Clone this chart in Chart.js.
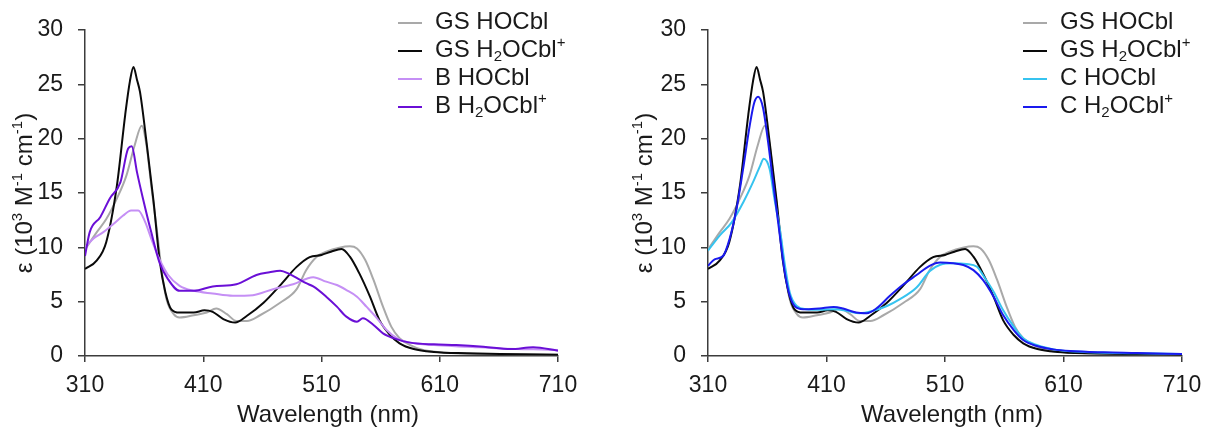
<!DOCTYPE html>
<html><head><meta charset="utf-8">
<script src="https://cdn.jsdelivr.net/npm/chart.js@4.4.1/dist/chart.umd.min.js"></script>
<style>
html,body{margin:0;padding:0;background:#fff;}
#wrap{position:relative;width:1206px;height:430px;overflow:hidden;}
canvas{position:absolute;top:0;}
#c1{left:0}
#c2{left:603px}
</style></head><body>
<div id="wrap"><canvas id="c1" width="603" height="430"></canvas><canvas id="c2" width="603" height="430"></canvas></div>
<script>
// ---- tick labels ----
const xTickValues = [310, 410, 510, 610, 710];
const yTickValues = [0, 5, 10, 15, 20, 25, 30];
const xTitle = 'Wavelength (nm)';
const yTitle = '\u03b5 (10{^3} M{^-1} cm{^-1})';

// ---- series (wavelength nm, epsilon 10^3 M^-1 cm^-1) ----
const gsHOCblNm  = [310, 320, 328, 337, 345, 352, 358, 362, 366, 371, 375, 379, 385, 390, 402, 413, 421, 430, 438, 447, 458, 475, 489, 497, 506, 514, 525, 534, 540, 547, 554, 562, 569, 576, 585, 596, 610, 633, 661, 710];
const gsHOCblEps = [9.8, 11.4, 12.6, 14.5, 16.6, 19.4, 21.2, 19.4, 15.7, 11.4, 7.7, 5.2, 3.85, 3.54, 3.75, 4.0, 4.37, 3.85, 3.23, 3.23, 3.75, 4.9, 6.15, 7.9, 9.14, 9.6, 9.97, 10.1, 9.9, 8.83, 7.0, 4.54, 2.7, 1.63, 1.01, 0.55, 0.34, 0.21, 0.18, 0.12];

const gsH2ONm  = [310, 320, 328, 337, 344, 348, 351, 354, 356.5, 362, 368, 373, 378, 383, 390, 402, 411, 418, 427, 437, 447, 461, 475, 489, 500, 510, 518, 527, 534, 542, 551, 559, 568, 576, 588, 605, 633, 661, 710];
const gsH2OEps = [8.0, 8.8, 10.5, 15.7, 22.2, 25.3, 26.6, 25.4, 24.3, 19.7, 14.2, 8.9, 5.85, 4.3, 4.0, 4.0, 4.2, 4.06, 3.4, 3.08, 3.7, 4.9, 6.5, 8.2, 9.1, 9.3, 9.6, 9.85, 9.14, 7.6, 5.46, 3.3, 1.93, 1.17, 0.64, 0.37, 0.25, 0.18, 0.12];

const bHOCblNm  = [310, 317, 325.5, 334, 342, 349, 355, 361, 366, 373, 380, 390, 402, 418, 435, 452, 469, 486, 503, 514, 523, 531, 540, 548, 557, 565, 574, 585, 605, 633, 661, 689, 710];
const bHOCblEps = [10.0, 10.8, 11.4, 12.15, 12.9, 13.4, 13.4, 12.3, 10.8, 8.9, 7.5, 6.46, 6.0, 5.75, 5.54, 5.6, 6.15, 6.6, 7.25, 6.84, 6.53, 6.07, 5.46, 4.54, 3.47, 2.39, 1.63, 1.23, 1.01, 0.86, 0.7, 0.61, 0.55];

const bH2ONm  = [310, 314, 323, 331, 340, 346.5, 349.5, 354, 359, 366, 373, 380, 390, 402, 418, 438, 455, 466, 475, 483, 492, 497, 503, 514, 523, 531, 540, 545, 554, 562, 574, 585, 605, 624, 647, 670, 689, 710];
const bH2OEps = [9.2, 11.4, 12.8, 14.5, 16.0, 19.1, 19.3, 16.9, 14.5, 11.4, 8.6, 7.1, 6.0, 6.0, 6.4, 6.6, 7.45, 7.7, 7.85, 7.54, 7.0, 6.7, 6.4, 5.46, 4.54, 3.62, 3.16, 3.47, 2.85, 2.09, 1.53, 1.23, 1.07, 1.01, 0.86, 0.64, 0.8, 0.49];

const cHOCblNm  = [310, 320, 330, 340, 348, 354, 357, 362, 366, 371, 375, 379, 385, 393, 404, 416, 427, 438, 449, 461, 472, 486, 497, 506, 517, 528, 537, 542, 551, 559, 568, 576, 587.5, 601.5, 615.6, 644, 672, 710];
const cHOCblEps = [9.7, 11.1, 12.3, 14.2, 16.0, 17.5, 18.15, 17.2, 14.5, 11.4, 8.3, 5.85, 4.6, 4.3, 4.25, 4.3, 4.15, 3.94, 4.15, 4.6, 5.23, 6.3, 7.8, 8.4, 8.53, 8.47, 8.22, 7.45, 5.92, 4.23, 2.7, 1.63, 1.01, 0.61, 0.43, 0.31, 0.25, 0.18];

const cH2ONm  = [310, 315.6, 322.7, 328.3, 334, 339.6, 345.2, 349, 352.3, 356.5, 360.7, 364.9, 370.6, 374.8, 379, 384.6, 393, 404, 416, 424, 435, 444, 452, 463.5, 475, 486, 497, 506, 517, 525.5, 534, 542, 551, 559, 568, 576, 587.5, 601.5, 615.6, 644, 672, 710];
const cH2OEps = [8.3, 8.9, 9.2, 10.8, 13.5, 17.2, 21.2, 23.3, 23.85, 22.8, 19.7, 16.0, 11.1, 7.7, 5.54, 4.46, 4.3, 4.37, 4.52, 4.37, 4.0, 3.94, 4.37, 5.54, 6.6, 7.45, 8.3, 8.6, 8.53, 8.37, 7.9, 7.0, 5.46, 3.77, 2.39, 1.47, 0.92, 0.61, 0.46, 0.34, 0.28, 0.18];

// ---- labels & colours ----
const leftLabels  = ['GS HOCbl', 'GS H{_2}OCbl{^+}', 'B HOCbl', 'B H{_2}OCbl{^+}'];
const rightLabels = ['GS HOCbl', 'GS H{_2}OCbl{^+}', 'C HOCbl', 'C H{_2}OCbl{^+}'];
const colGS1 = '#a9a9a9', colGS2 = '#0a0a0a', colB1 = '#c58ff5', colB2 = '#6a0fd6', colC1 = '#36c3ef', colC2 = '#1a1aee';

const FONT = '"Liberation Sans", Arial, sans-serif';
const FS = 23, TFS = 24, SFS = 15;
const TXT = '#1a1a1a', AX = '#3c3c3c';

function parseRich(s) {
  const segs = []; const re = /\{([_^])([^}]*)\}/g; let last = 0, m;
  while ((m = re.exec(s))) {
    if (m.index > last) segs.push({t: s.slice(last, m.index), k: 0});
    segs.push({t: m[2], k: m[1] === '_' ? 1 : -1});
    last = re.lastIndex;
  }
  if (last < s.length) segs.push({t: s.slice(last), k: 0});
  return segs;
}
function plain(s) { return s.replace(/\{[_^]([^}]*)\}/g, '$1'); }
function drawRich(ctx, s, x, y, align) {
  const segs = parseRich(s);
  let w = 0;
  segs.forEach(g => { ctx.font = (g.k ? SFS : TFS) + 'px ' + FONT; g.w = ctx.measureText(g.t).width; w += g.w; });
  let cx = align === 'center' ? x - w / 2 : x;
  ctx.textAlign = 'left'; ctx.textBaseline = 'middle'; ctx.fillStyle = TXT;
  segs.forEach(g => {
    ctx.font = (g.k ? SFS : TFS) + 'px ' + FONT;
    const dy = g.k === 1 ? 7 : (g.k === -1 ? -7 : 0);
    ctx.fillText(g.t, cx, y + dy);
    cx += g.w;
  });
}

const annot = {
  id: 'annot',
  afterDraw(chart, args, o) {
    const ctx = chart.ctx;
    ctx.save();
    o.labels.forEach((lab, i) => {
      const y = o.legY + i * o.legDY;
      ctx.strokeStyle = o.colors[i]; ctx.lineWidth = 2;
      ctx.beginPath(); ctx.moveTo(o.legX, y + 1); ctx.lineTo(o.legX + 24, y + 1); ctx.stroke();
      drawRich(ctx, lab, o.legX + 37, y, 'left');
    });
    drawRich(ctx, xTitle, o.xTitleX, 415, 'center');
    ctx.translate(o.yTitleX, 193); ctx.rotate(-Math.PI / 2);
    drawRich(ctx, yTitle, 0, 0, 'center');
    ctx.restore();
  }
};

function series(nm, eps) { return nm.map((x, i) => ({x: x, y: eps[i]})); }

function makeChart(id, sets, labels, colors, cfg) {
  const datasets = sets.map((s, i) => ({
    label: plain(labels[i]), data: series(s[0], s[1]), borderColor: colors[i], backgroundColor: colors[i],
    borderWidth: 2, pointRadius: 0, cubicInterpolationMode: 'monotone', fill: false, order: sets.length - i
  }));
  return new Chart(document.getElementById(id), {
    type: 'line',
    data: {datasets},
    plugins: [annot],
    options: {
      responsive: false, animation: false, devicePixelRatio: 1,
      layout: {padding: {left: 0, top: 30, right: cfg.padRight, bottom: 0}},
      plugins: {legend: {display: false}, tooltip: {enabled: false},
        annot: {labels, colors, legX: cfg.legX, legY: 22, legDY: 28, xTitleX: cfg.xTitleX, yTitleX: cfg.yTitleX}},
      scales: {
        x: {type: 'linear', min: 310, max: 710,
          afterBuildTicks: s => { s.ticks = xTickValues.map(v => ({value: v})); },
          afterFit: s => { s.height = 74; s.paddingLeft = 0; s.paddingRight = 0; },
          border: {display: true, color: AX, width: 1.5},
          grid: {drawOnChartArea: false, drawTicks: true, tickLength: 6, color: AX, lineWidth: 1.5},
          ticks: {color: TXT, font: {family: FONT, size: FS}, padding: 10, maxRotation: 0, autoSkip: false}
        },
        y: {type: 'linear', min: 0, max: 30,
          afterBuildTicks: s => { s.ticks = yTickValues.map(v => ({value: v})); },
          afterFit: s => { s.width = cfg.yWidth; s.paddingTop = 0; s.paddingBottom = 0; },
          border: {display: true, color: AX, width: 1.5},
          grid: {drawOnChartArea: false, drawTicks: true, tickLength: 7, color: AX, lineWidth: 1.5},
          ticks: {color: TXT, font: {family: FONT, size: FS}, padding: 15}
        }
      }
    }
  });
}

makeChart('c1',
  [[gsHOCblNm, gsHOCblEps], [gsH2ONm, gsH2OEps], [bHOCblNm, bHOCblEps], [bH2ONm, bH2OEps]],
  leftLabels, [colGS1, colGS2, colB1, colB2],
  {padRight: 45, yWidth: 85, legX: 398, xTitleX: 328, yTitleX: 25});
makeChart('c2',
  [[gsHOCblNm, gsHOCblEps], [gsH2ONm, gsH2OEps], [cHOCblNm, cHOCblEps], [cH2ONm, cH2OEps]],
  rightLabels, [colGS1, colGS2, colC1, colC2],
  {padRight: 24, yWidth: 105, legX: 420, xTitleX: 349, yTitleX: 42});
</script>
</body></html>
